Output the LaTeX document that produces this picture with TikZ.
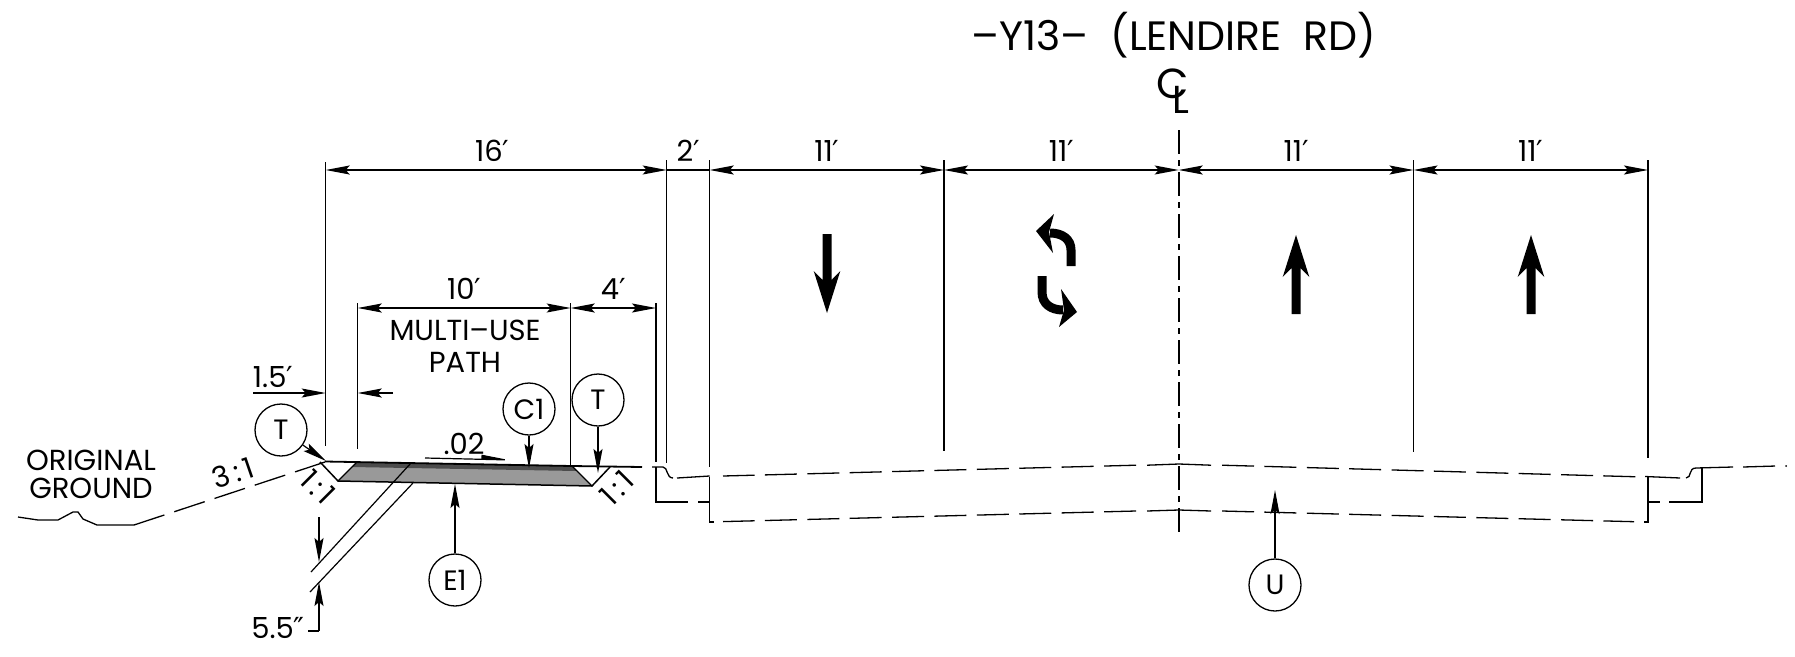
\documentclass[tikz,border=0pt]{standalone}
\usepackage{fontspec}
\setmainfont{Poppins}
\newfontfamily\primefont{DejaVu Sans}
\newcommand{\ft}{{\primefont\char"2032}}
\newcommand{\inch}{{\primefont\char"2033}}
\usetikzlibrary{arrows.meta,positioning}
\tikzset{
  dimline/.style={line width=1.2pt},
  callout/.style={draw,circle,line width=1.3pt,minimum size=52pt,inner sep=0pt,font=\fontsize{28}{28}\selectfont},
  label/.style={font=\fontsize{29}{29}\selectfont,inner sep=3pt},
  dimtext/.style={label,anchor=south,yshift=5pt},
  extline/.style={line width=1.2pt},
  profile/.style={line width=1.3pt},
  profdash/.style={line width=1.3pt,dash pattern=on 32pt off 10.4pt},
  lanemark/.style={fill=black,draw=none}
}
\begin{document}
\begin{tikzpicture}[x=1pt,y=-1pt,>={Stealth[length=24pt,width=9pt,inset=4pt]}]
  \useasboundingbox (0,0) rectangle (1795,656);
  % Heading
  \node[font=\fontsize{41}{41}\selectfont,inner sep=0pt] (road title) at (1174,35) {–Y13–\ \ (LENDIRE\ \ RD)};
  \node[font=\fontsize{42}{42}\selectfont,inner sep=0pt] (cl c) at (1173,84) {C};
  \node[font=\fontsize{39}{39}\selectfont,inner sep=0pt] (cl l) at (1181,100) {L};
  \draw[line width=2.2pt,dash pattern=on 24pt off 6pt on 6pt off 6pt] (1178.7,130) -- (1178.7,532);

  % Extension lines
  \draw[extline]
  (325.7,162) -- (325.7,446)
  (357.7,303) -- (357.7,449)
  (570.7,303) -- (570.7,467)
  (656,303) -- (656,462)
  (666.7,160) -- (666.7,463)
  (709.7,160) -- (709.7,467)
  (944,160) -- (944,451)
  (1413.5,160) -- (1413.5,452)
  (1648,160) -- (1648,458);

  % Top dimensions
  \coordinate (D 0) at (325.7,170);
  \coordinate (D 1) at (666.7,170);
  \coordinate (D 2) at (709.7,170);
  \coordinate (D 3) at (944,170);
  \coordinate (D 4) at (1178.7,170);
  \coordinate (D 5) at (1413.5,170);
  \coordinate (D 6) at (1648,170);
  \path[dimline,draw]
  (D 0) edge[<->] node[dimtext,xshift=-4pt] {16\ft} (D 1)
  (D 1) edge node[dimtext] {2\ft} (D 2)
  (D 2) edge[<->] node[dimtext] {11\ft} (D 3)
  (D 3) edge[<->] node[dimtext] {11\ft} (D 4)
  (D 4) edge[<->] node[dimtext] {11\ft} (D 5)
  (D 5) edge[<->] node[dimtext] {11\ft} (D 6);

  % Path dimensions
  \coordinate (P 0) at (357.7,308);
  \coordinate (P 1) at (570.7,308);
  \coordinate (P 2) at (656,308);
  \path[dimline]
  (P 0) edge[<->] node[dimtext] {10\ft} (P 1)
  (P 1) edge[<->] node[dimtext] {4\ft} (P 2);
  \node[label,align=center,inner sep=0pt] (path name) at (465,346) {MULTI–USE\\[3pt]PATH};

  % Berm dimension
  \coordinate (B 0) at (253,393);
  \coordinate (B 1) at (325.7,393);
  \coordinate (B 2) at (393,393);
  \coordinate (B 3) at (357.7,393);
  \path[dimline]
  (B 0) edge[->] (B 1)
  (B 2) edge[->] (B 3);
  \node[label,inner sep=0pt] (berm text) at (273,377) {1.5\ft};

  % Ground and slopes
  \draw[profile] (18,517) -- (38,520) -- (58,520) -- (73,512) -- (78,512) -- (83,519) -- (97,525) -- (134,525);
  \draw[profdash] (134,525) -- (325,462);
  \node[label,align=center,inner sep=0pt] (ground name) at (91,474) {ORIGINAL\\[-1pt]GROUND};
  \node[label,rotate=19,inner sep=0pt] (slope 1) at (233,473) {3\,:\,1};
  \node[label,rotate=-45,inner sep=0pt] (slope 2) at (318,487) {1\,:\,1};
  \node[label,rotate=45,inner sep=0pt] (slope 3) at (617,488) {1\,:\,1};

  % Multi-use path section
  \fill[black!40] (357,462) -- (338,481) -- (592,486) -- (572,467) -- cycle;
  \fill[black!70] (357,462) -- (352,467) -- (577,471) -- (572,466) -- cycle;
  \draw[line width=1.8pt] (325,461.5) -- (572,466) -- (642,467);
  \draw[line width=1.5pt] (320,462) -- (338,481) -- (592,486) -- (610,467);
  \draw[line width=1.2pt] (357,462) -- (338,481) (572,466) -- (592,486);
  \draw[line width=1.2pt] (411,463) -- (311,572) (413,483) -- (310,592);
  \node[label,inner sep=0pt] (grade text) at (464,444) {.02};
  \coordinate (G 0) at (425,458);
  \coordinate (G 1) at (512,460);
  \path[dimline] (G 0) edge[-{Stealth[harpoon,length=27pt,width=9pt,inset=0pt]}] (G 1);

  % Thickness dimension
  \coordinate (E 0) at (319,517);
  \coordinate (E 1) at (319,562);
  \coordinate (E 2) at (319,631);
  \coordinate (E 3) at (319,582);
  \coordinate (E 4) at (308,631);
  \path[dimline]
  (E 0) edge[->] (E 1)
  (E 2) edge[->] (E 3)
  (E 4) edge (E 2);
  \node[label,inner sep=0pt] (depth text) at (278,628) {5.5\inch};

  % Roadway profile
  \draw[profile] (652,467) -- (663,467) .. controls (668,467) and (666,478) .. (673,478);
  \draw[profile] (677,478) -- (709.7,476);
  \draw[profile] (1147,465.2) -- (1179,464) -- (1211,465.2);
  \draw[profdash] (1136,465.2) -- (723,476);
  \draw[profdash] (1222,465.2) -- (1637,476.8);
  \draw[profile] (1645,476.5) -- (1680,478);
  \draw[profile] (1686,478) .. controls (1692,478) and (1688,468) .. (1696,468) -- (1733,467);
  \draw[profdash] (1743,467) -- (1776,466);
  \fill (1786,466) circle (1pt);
  % Subgrade
  \draw[profile] (656,467) -- (656,502) -- (688,502) (698,502) -- (709.7,502);
  \draw[profile] (709.7,477) -- (709.7,522) -- (714,522);
  \draw[profile] (1147,511) -- (1179,510) -- (1211,511);
  \draw[profdash] (1136,511) -- (723,521.6);
  \draw[profdash] (1222,511) -- (1634,521.7);
  \draw[profile] (1644,522) -- (1648,522) -- (1648,476);
  \draw[profile] (1648,502) -- (1660,502) (1669,502) -- (1702,502) -- (1702,468);

  % Callouts
  \node[callout] (T 1) at (281,430) {T};
  \node[callout] (T 2) at (598,400) {T};
  \node[callout] (C 1) at (529,409) {C1};
  \node[callout] (E 1 note) at (455,580) {E1};
  \node[callout] (U note) at (1275,585) {U};
  \coordinate (T 1 tip) at (326,461);
  \coordinate (T 2 tip) at (598,473);
  \coordinate (C 1 tip) at (529,468);
  \coordinate (E 1 tip) at (455,484);
  \coordinate (U tip) at (1275,490);
  \path[dimline]
  (T 1) edge[->] (T 1 tip)
  (T 2) edge[->] (T 2 tip)
  (C 1) edge[->] (C 1 tip)
  (E 1 note) edge[->] (E 1 tip)
  (U note) edge[->] (U tip);

  % Lane arrows
  \fill[lanemark] (827,313) -- (840.3,271) -- (831.5,280) -- (831.5,234) -- (822.5,234) -- (822.5,280) -- (813.7,271) -- cycle;
  \fill[lanemark] (1296,235) -- (1309.3,277) -- (1300.5,268) -- (1300.5,314) -- (1291.5,314) -- (1291.5,268) -- (1282.7,277) -- cycle;
  \fill[lanemark] (1531,235) -- (1544.3,277) -- (1535.5,268) -- (1535.5,314) -- (1526.5,314) -- (1526.5,268) -- (1517.7,277) -- cycle;
  % Two way turn
  \draw[line width=9pt] (1071,266) -- (1071,250) .. controls (1071,239) and (1062,233) .. (1050,233);
  \fill[lanemark] (1036,231) -- (1054,214) -- (1049,232) -- (1053,253) -- cycle;
  \draw[line width=9pt] (1042,276) -- (1042,292) .. controls (1042,304) and (1051,310) .. (1063,310);
  \fill[lanemark] (1077,312) -- (1061,289) -- (1064,310) -- (1059,327) -- cycle;
\end{tikzpicture}
\end{document}
